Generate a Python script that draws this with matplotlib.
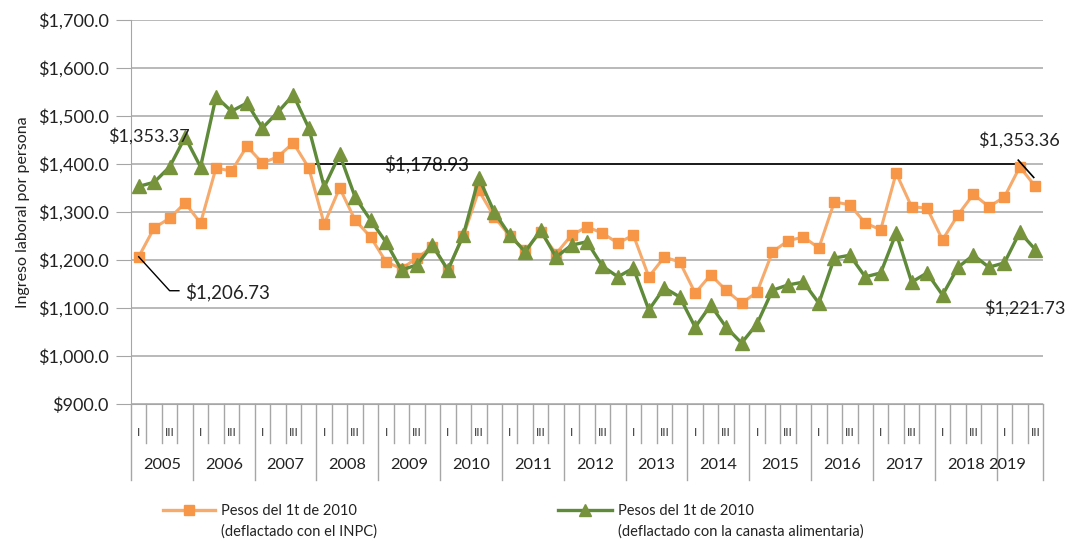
import matplotlib
matplotlib.use("Agg")
import matplotlib.pyplot as plt
from matplotlib.lines import Line2D
import matplotlib.transforms as mtransforms

plt.rcParams['font.family'] = ['Lato', 'DejaVu Sans']

years = [str(y) for y in range(2005, 2020)]
quarters_per_year = [4] * 14 + [3]
quarter_labels = ["I", "", "III", ""]

inpc = [1206.73, 1267, 1287, 1319, 1277, 1392, 1385, 1437, 1402, 1415, 1444, 1392,
        1275, 1350, 1283, 1248, 1196, 1182, 1204, 1228, 1180, 1250, 1345, 1290,
        1250, 1220, 1258, 1213, 1252, 1269, 1256, 1235, 1252, 1165, 1206, 1196,
        1131, 1169, 1137, 1110, 1133, 1217, 1240, 1248, 1225, 1321, 1315, 1277,
        1263, 1381, 1311, 1308, 1242, 1294, 1337, 1311, 1331, 1394, 1353.36]
canasta = [1353.37, 1362, 1394, 1456, 1394, 1540, 1510, 1527, 1475, 1508, 1544, 1475,
           1352, 1420, 1331, 1283, 1237, 1179, 1190, 1231, 1179, 1252, 1371, 1300,
           1252, 1217, 1262, 1206, 1231, 1238, 1187, 1165, 1183, 1096, 1142, 1123,
           1060, 1106, 1060, 1027, 1067, 1137, 1148, 1154, 1110, 1204, 1210, 1165,
           1173, 1256, 1154, 1173, 1127, 1185, 1210, 1185, 1194, 1258, 1221.73]

label_inpc = "Pesos del 1t de 2010\n(deflactado con el INPC)"
label_canasta = "Pesos del 1t de 2010\n(deflactado con la canasta alimentaria)"
ylabel = "Ingreso laboral por persona"

orange_line = "#F6AA6C"
orange_mk = "#F79646"
green_line = "#5E8A3A"
green_mk = "#77933C"
grid_c = "#A6A6A6"
txt_c = "#222222"

W, H = 1072, 546
fig = plt.figure(figsize=(W / 100, H / 100), dpi=100)
ax = fig.add_axes([131 / W, 1 - 404 / H, (1043 - 131) / W, (404 - 20) / H])

x = list(range(len(inpc)))
ax.plot(x, inpc, color=orange_line, lw=2.2, marker="s", ms=7.5,
        mfc=orange_mk, mec=orange_mk, zorder=3)
ax.plot(x, canasta, color=green_line, lw=2.4, marker="^", ms=10,
        mfc=green_mk, mec=green_mk, zorder=4)

ax.set_xlim(-0.5, len(inpc) - 0.5)
ax.set_ylim(900, 1700)
ax.set_yticks(range(900, 1701, 100))
ax.set_yticklabels([f"${v:,.1f}" for v in range(900, 1701, 100)], fontsize=13, color=txt_c)
ax.yaxis.grid(True, color=grid_c, lw=1.1)
ax.set_axisbelow(True)
ax.tick_params(axis="y", length=11, color=grid_c, pad=5)
ax.tick_params(axis="x", length=0, labelbottom=False)
for s in ["top", "right"]:
    ax.spines[s].set_visible(False)
ax.spines["left"].set_color(grid_c)
ax.spines["bottom"].set_color(grid_c)
ax.set_ylabel(ylabel, fontsize=11.5, color=txt_c, labelpad=6)

# multi-level category axis
trans = mtransforms.blended_transform_factory(ax.transData, ax.transAxes)
pos = -0.5
for yr, nq in zip(years, quarters_per_year):
    ax.add_line(Line2D([pos, pos], [0, -0.198], transform=trans, color=grid_c, lw=1, clip_on=False))
    for q in range(nq):
        if q > 0:
            ax.add_line(Line2D([pos + q, pos + q], [0, -0.102], transform=trans, color=grid_c, lw=1, clip_on=False))
        lab = quarter_labels[q]
        if lab:
            ax.text(pos + q + 0.5, -0.075, lab, transform=trans, ha="center", va="center",
                    fontsize=8.5, color="#333333")
    cx = pos + nq / 2
    if yr == "2019":
        cx -= 0.8
    ax.text(cx, -0.158, yr, transform=trans, ha="center", va="center", fontsize=11.8, color=txt_c)
    pos += nq
ax.add_line(Line2D([pos, pos], [0, -0.198], transform=trans, color=grid_c, lw=1, clip_on=False))

# data labels with leader lines
ax.plot([11, 57], [1400, 1400], color="black", lw=1.2, zorder=2)
ax.text(15.9, 1400, "$1,178.93", ha="left", va="center", fontsize=13.5,
        color=txt_c, zorder=1)
ax.text(-1.97, 1458, "$1,353.37", ha="left", va="center", fontsize=13, color=txt_c,
        zorder=5, clip_on=False)
ax.plot([0, 2, 2.6], [inpc[0], 1136, 1136], color="black", lw=1, zorder=5)
ax.text(3.0, 1133, "$1,206.73", ha="left", va="center", fontsize=13.5, color=txt_c)
ax.text(54.3, 1450, "$1,353.36", ha="left", va="center", fontsize=13, color=txt_c, clip_on=False)
ax.plot([56.9, 57.9], [1408, 1372], color="black", lw=1.2, zorder=5)
ax.text(54.7, 1100, "$1,221.73", ha="left", va="center", fontsize=13, color=txt_c, clip_on=False)

# legend (manual)
def leg(x0, x1, y, color_l, color_m, marker, ms, text):
    fig.add_artist(Line2D([x0 / W, x1 / W], [1 - y / H, 1 - y / H], color=color_l, lw=2.4,
                          transform=fig.transFigure))
    fig.add_artist(Line2D([(x0 + x1) / 2 / W], [1 - y / H], marker=marker, ms=ms, color=color_m,
                          mec=color_m, transform=fig.transFigure, lw=0))
    fig.text((x1 + 6) / W, 1 - (y + 11) / H, text, ha="left", va="center", fontsize=10.5,
             color=txt_c, linespacing=1.55)

leg(163, 215, 510, orange_line, orange_mk, "s", 7, label_inpc)
leg(558, 612, 510, green_line, green_mk, "^", 8, label_canasta)

fig.savefig("out.png", dpi=100)
